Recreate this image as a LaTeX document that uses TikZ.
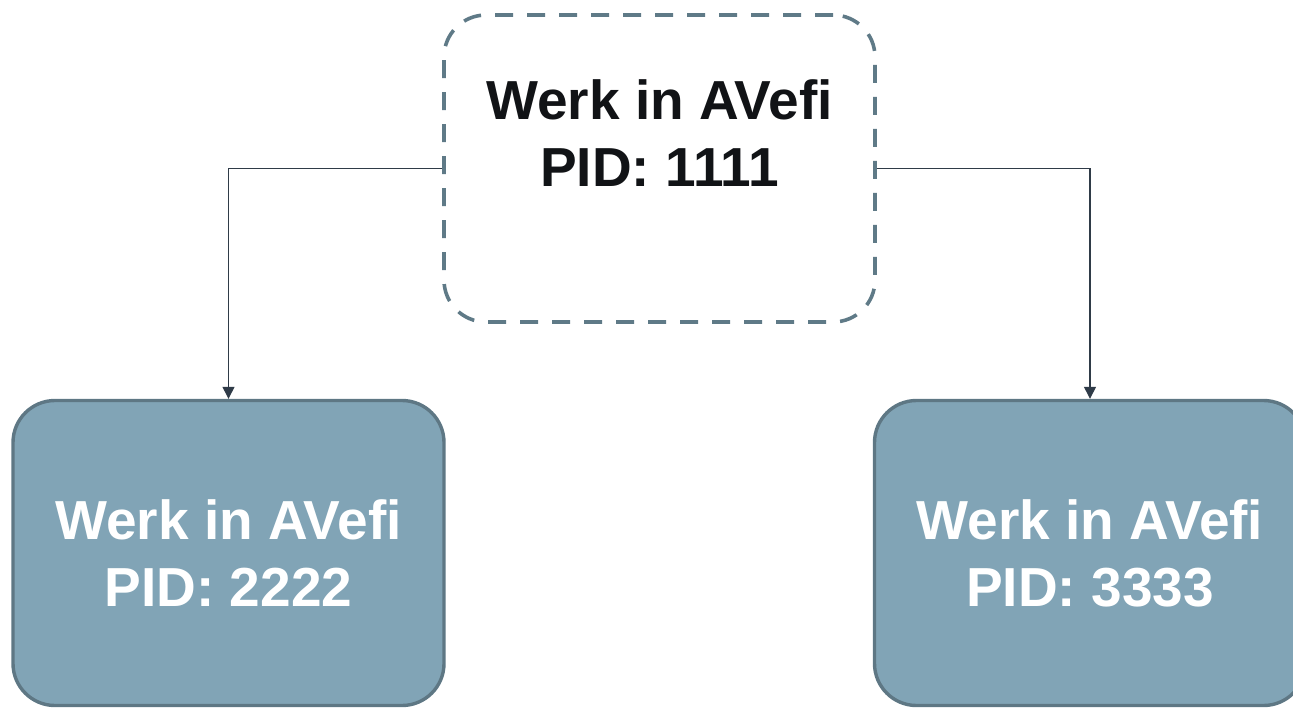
\documentclass[tikz,border=0pt]{standalone}
\usepackage{fontspec}
\setmainfont{Liberation Sans}
\usetikzlibrary{arrows.meta}
\definecolor{dashstroke}{HTML}{5F7A87}
\definecolor{boxfill}{HTML}{81A4B6}
\definecolor{boxstroke}{HTML}{5E7784}
\definecolor{arrowcol}{HTML}{2F3B48}
\definecolor{textdark}{HTML}{111316}
\tikzset{
  wbox/.style={rectangle, rounded corners=42pt, minimum width=431pt, minimum height=305pt,
    inner sep=0pt, align=center, font=\fontsize{55}{67}\selectfont\bfseries},
  topbox/.style={wbox, draw=dashstroke, line width=3.6pt, dash pattern=on 18pt off 14pt,
    minimum height=307pt, text=textdark},
  childbox/.style={wbox, draw=boxstroke, fill=boxfill, line width=3.4pt, text=white},
  conn/.style={draw=arrowcol, line width=1.3pt, -{Triangle[width=12pt,length=12pt]}}
}
\begin{document}
\begin{tikzpicture}[x=1pt,y=-1pt]
\useasboundingbox (0,0) rectangle (1293,707);
\clip (0,0) rectangle (1293,707);
\node[topbox] (top) at (659.5,168.5) {Werk in AVefi\\PID: 1111\\[-17pt]\strut};
\node[childbox] (left) at (228.5,553) {Werk in AVefi\\PID: 2222};
\node[childbox] (right) at (1090,553) {Werk in AVefi\\PID: 3333};
\draw[conn] (top.west) -| (left.north);
\draw[conn] (top.east) -| (right.north);
\end{tikzpicture}
\end{document}
